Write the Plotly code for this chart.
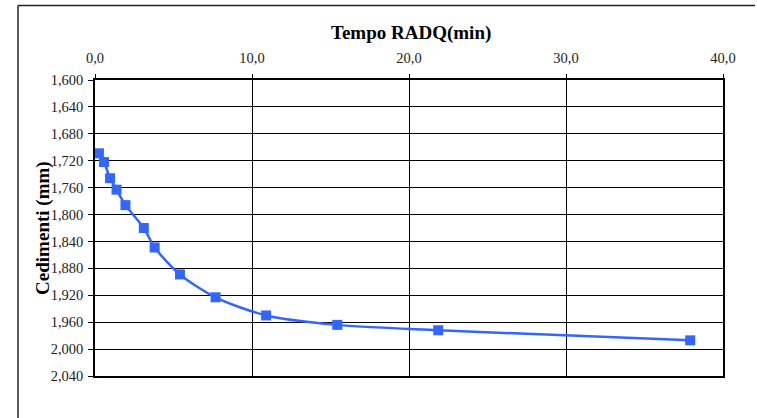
import plotly.graph_objects as go

# Square-root-of-time consolidation readings
tempo_radq = [0.25, 0.57, 0.96, 1.37, 1.94, 3.11, 3.80, 5.41, 7.68, 10.90, 15.43, 21.86, 37.91]
cedimenti = [1.709, 1.722, 1.746, 1.763, 1.786, 1.820, 1.849, 1.889, 1.923, 1.950, 1.964, 1.972, 1.987]

x_ticks = [0, 10, 20, 30, 40]
y_ticks = [1.600, 1.640, 1.680, 1.720, 1.760, 1.800, 1.840, 1.880, 1.920, 1.960, 2.000, 2.040]

blue = "#3366FF"
serif = "Liberation Serif"

fig = go.Figure()
fig.add_trace(go.Scatter(
    x=tempo_radq, y=cedimenti,
    mode="lines+markers",
    line=dict(color=blue, width=2.5, shape="spline", smoothing=0.8),
    marker=dict(symbol="square", size=10, color=blue),
    showlegend=False,
))

fig.update_layout(
    width=757, height=418,
    margin=dict(l=95, r=34, t=80, b=42),
    paper_bgcolor="white", plot_bgcolor="white",
    separators=",.",
    font=dict(family=serif, size=14, color="black"),
    xaxis=dict(
        side="top", range=[0, 40], tickvals=x_ticks, tickformat=".1f",
        showgrid=True, gridcolor="black", gridwidth=1,
        showline=True, linecolor="black", linewidth=1.5, mirror=True,
        ticks="outside", ticklen=4, tickcolor="black", zeroline=False,
        ticklabelstandoff=5,
        tickfont=dict(family=serif, size=14.5, color="#222"),
    ),
    yaxis=dict(
        range=[2.04, 1.60], tickvals=y_ticks, tickformat=".3f",
        showgrid=True, gridcolor="black", gridwidth=1,
        showline=True, linecolor="black", linewidth=1.5, mirror=True,
        ticks="outside", ticklen=5, tickcolor="black", zeroline=False,
        ticklabelstandoff=2,
        tickfont=dict(family=serif, size=14.5, color="#222"),
    ),
    annotations=[
        dict(text="<b>Tempo RADQ(min)</b>", xref="paper", yref="paper",
             x=0.503, y=1.16, xanchor="center", yanchor="middle",
             showarrow=False, font=dict(family=serif, size=19, color="black")),
        dict(text="<b>Cedimenti (mm)</b>", xref="paper", yref="paper",
             x=-0.083, y=0.5, xanchor="center", yanchor="middle", textangle=-90,
             showarrow=False, font=dict(family=serif, size=19, color="black")),
    ],
    shapes=[
        # chart frame: top and left edges
        dict(type="line", xref="paper", yref="paper", x0=-0.1226, x1=1.051,
             y0=1.2517, y1=1.2517, line=dict(color="#222", width=1.5)),
        dict(type="line", xref="paper", yref="paper", x0=-0.1226, x1=-0.1226,
             y0=1.2517, y1=-0.15, line=dict(color="#222", width=1.5)),
    ],
)

fig.write_html("out.html")
